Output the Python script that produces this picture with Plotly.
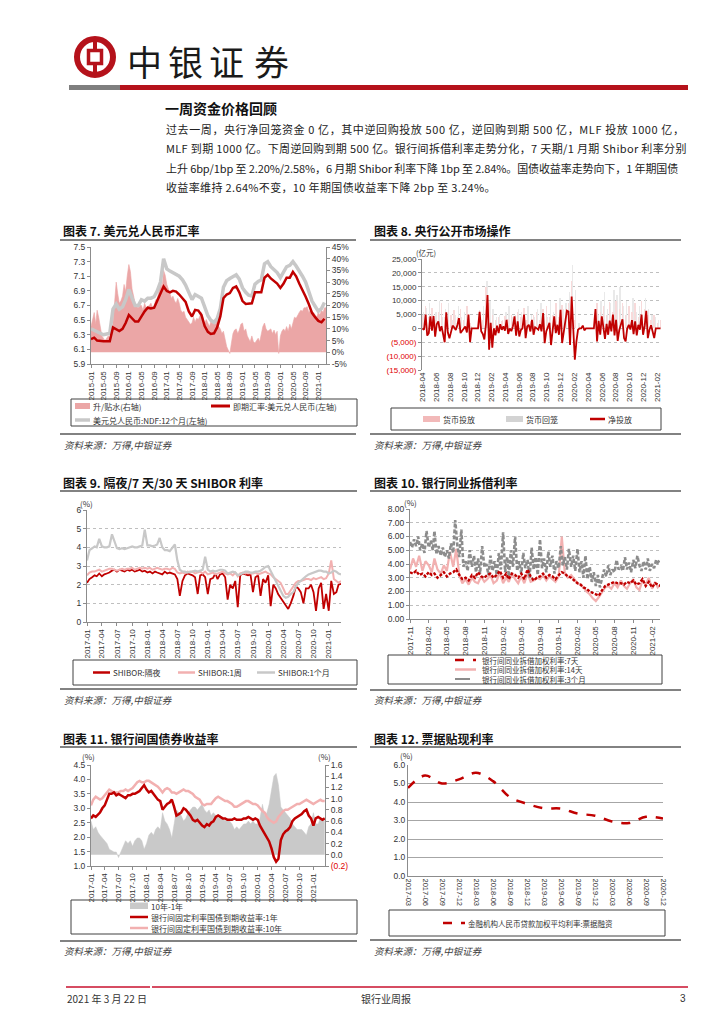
import pandas as pd
import plotly.graph_objects as go

W, H = 724, 1024
RED = "#C00000"
BRAND = "#B5121B"
PINK = "#EBA6A6"
LPINK = "#F2B0B0"
LGRAY = "#C8C8C8"
DGRAY = "#8C8C8C"
TXT = "#333333"
CJK = "Noto Sans CJK SC"
LAT = "Liberation Sans, Arial, sans-serif"

# ---------------- Chart 7: USD/CNY ----------------
fx_months = pd.date_range("2015-01-01", "2021-03-01", freq="MS")
fx_spot = [6.24, 6.26, 6.22, 6.21, 6.21, 6.21, 6.21, 6.40, 6.37, 6.35, 6.38, 6.46,
           6.57, 6.53, 6.48, 6.48, 6.55, 6.62, 6.67, 6.66, 6.67, 6.76, 6.87, 6.96,
           6.90, 6.88, 6.90, 6.89, 6.85, 6.80, 6.75, 6.62, 6.55, 6.64, 6.63, 6.57,
           6.42, 6.34, 6.31, 6.32, 6.40, 6.55, 6.80, 6.85, 6.87, 6.94, 6.96, 6.88,
           6.76, 6.72, 6.72, 6.73, 6.88, 6.88, 6.88, 7.08, 7.12, 7.07, 7.04, 7.00,
           6.94, 7.00, 7.08, 7.08, 7.16, 7.10, 7.00, 6.92, 6.82, 6.72, 6.60, 6.54,
           6.49, 6.47, 6.52]
fx_ndf = [6.38, 6.36, 6.33, 6.31, 6.30, 6.31, 6.32, 6.65, 6.72, 6.65, 6.68, 6.78,
          6.92, 6.80, 6.70, 6.70, 6.78, 6.76, 6.80, 6.80, 6.82, 6.90, 7.02, 7.34,
          7.20, 7.17, 7.15, 7.12, 7.10, 7.05, 6.98, 6.88, 6.78, 6.85, 6.82, 6.80,
          6.68, 6.56, 6.50, 6.47, 6.52, 6.66, 6.95, 7.04, 7.07, 7.10, 7.12, 7.06,
          6.94, 6.88, 6.84, 6.83, 6.99, 7.03, 7.05, 7.27, 7.30, 7.23, 7.19, 7.15,
          7.08, 7.16, 7.23, 7.25, 7.30, 7.24, 7.18, 7.10, 7.02, 6.88, 6.76, 6.69,
          6.62, 6.66, 6.74]
fx_premium = [11, 14, 17, 12, 18, 15, 10, 7, 6, 5, 6, 7, 6.5, 7, 12.5, 22.5, 30, 25, 21, 22, 24, 29, 26, 32.5,
              37.5, 34.5, 27, 24, 21, 19.5, 19, 20, 20, 18, 21, 19, 19.5, 20, 21, 19, 20, 22.5, 23, 26, 31, 27, 35, 33,
              29, 27, 25, 23, 24, 22, 21, 23, 21, 18, 17, 17.5, 15, 14, 13, 12, 12.5, 15, 13, 14.5, 14, 16, 17, 15,
              12, 14, 12.5, 11, 13, 12.5, 13, 12, 14, 11, 10, 8, 9, 6, 2.5, 1, -0.5, 4, 8, 9.5, 10, 8, 9.5, 12,
              12.5, 9, 10, 7, 6, 4.5, 7, 4.5, 4, 5, 6, 4.5, 7.5, 11, 12.5, 10, 9, 9.5, 10, 8, 9.5, 7.5, 9, -0.5,
              7, 9, 10, 9, 11, 9, 12, 10, 13, 15, 14.5, 16, 17, 18, 17.5, 19, 19, 19.5, 17, 18, 17.5, 17, 16, 15,
              17, 16, 18, 17, 19, 19]
fx_ticks = pd.date_range("2015-01-01", "2021-01-01", freq="4MS")
fx_rticks = list(range(-5, 50, 5))

# ---------------- Chart 8: PBOC open market operations (亿元, weekly) ----------------
omo_net = [0, -500, 5000, -2600, -1700, 4300, -800, 4400, -3000, 1500, 2500, -1000, 800, -2200, -5000, 5800,
           -1500, -3600, -1700, 1000, 300, -600, 1200, 3700, -1700, -800, -400, 700, -1500, 5000, -5000,
           0, 0, 0, 0, 0, 6000, -1000, -2000, -4000, 1500, 12000, -7700, 2000, -7000, 0, -2500, 1000, -1700,
           1500, -500, 700, -800, 3100, -2000, 0, -1000, 800, 4300, -2600, 2500, -2900, -600, 0, 5000, -3500,
           700, 1300, -1100, 3100, -2300, 400, 0, -500, 1500, -1100, 5500, -5300, -1100, 600, 2000, -6000,
           -500, 4300, -1700, 1300, -2300, 6700, -5300, -1100, 1800, 6400, 6100, -6000, 11500, -500, -11300,
           -4700, -500, 0, 0, 1000, -700, 0, 0, 0, 0, 0, 0, 7000, -4700, 2700, -2300, 4300, -900, -3800, 1600,
           -2300, 2800, -1100, 5000, -2500, 3100, -4500, -600, 1300, 3300, -3500, -4700, 0, 1300, -400, 3000,
           -2100, 2500, -2500, 1300, -500, 5000, -2300, 900, 6300, -3500, -500, 1100, -1100, -3500, 0, 0, 0, 0]
omo_inject = [5000, 8000, 4000, 7500, 3000, 6000, 9000, 4000, 3000, 5000, 6500,
              4000, 7000, 3000, 8000, 2000, 0, 0, 6500, 3000,
              15000,
              9000, 5000, 3000, 4000, 2500, 4500, 3500, 5000, 2000, 6000,
              4000, 7500, 3000, 2500, 5000, 6000, 3000, 7000, 8000, 4000,
              5000, 9000, 4000, 8500, 7000, 9000, 17000, 3000, 0,
              0, 500, 0, 0, 0,
              9000,
              6000, 8000, 5000, 9500, 6000, 10000, 7000, 9000, 5000, 8000,
              6000, 9000, 4000, 10000, 7000, 5000, 3000, 5000, 2000, 3000]
omo_withdraw = [6000, 7500, 9000, 5000, 6000, 10000, 4000, 7000, 9000, 3000, 5000,
                8000, 4000, 6000, 3000, 1000, 0, 0, 5000, 8000,
                17000,
                10000, 7000, 4000, 5000, 3000, 6000, 8000, 4000, 5000, 7000,
                6000, 3000, 8000, 5000, 4000, 7000, 9000, 5000, 4000, 10000,
                6000, 5000, 11000, 7000, 9000, 13000, 23000, 14000, 2000,
                0, 0, 0, 0, 0,
                5000,
                10000, 13000, 7000, 9000, 14000, 12000, 15000, 8000, 10000, 6000,
                11000, 6000, 8000, 5000, 11000, 7000, 5000, 4000, 3000, 2000]
omo_yticks = [25000, 20000, 15000, 10000, 5000, 0, -5000, -10000, -15000]
omo_ticks = pd.date_range("2018-04-01", "2021-02-01", freq="2MS")

# ---------------- Chart 9: SHIBOR (semi-monthly) ----------------
sh_months = pd.date_range("2017-01-01", "2021-03-01", freq="MS")
shibor_on = [2.10, 2.30, 2.40, 2.50, 2.45, 2.60, 2.45, 2.55, 2.60, 2.65, 2.75, 2.80, 2.70, 2.80, 2.75, 2.70, 2.80, 2.75, 2.80, 2.70, 2.75, 2.80, 2.70, 2.75,
             2.65, 2.70, 2.60, 2.70, 2.65, 2.60, 2.55, 2.70, 2.60, 2.65, 2.60, 2.55, 2.30, 1.40, 2.20, 2.50, 2.60, 2.55, 2.50, 2.40, 1.50, 2.50, 2.55, 2.40,
             1.50, 2.30, 2.35, 2.60, 2.30, 2.55, 2.60, 2.40, 1.20, 2.00, 1.80, 2.20, 0.80, 2.50, 2.60, 2.55, 2.50, 2.55, 1.60, 2.40, 2.50, 1.40, 2.30, 2.10,
             2.50, 0.85, 2.00, 1.80, 1.50, 1.30, 1.10, 0.90, 0.70, 1.00, 1.40, 1.90, 1.80, 1.60, 1.00, 1.80, 1.80, 2.00, 1.60, 0.60, 1.80, 2.10, 0.70, 1.50,
             0.60, 2.20, 1.50, 1.60, 2.00, 2.05]
shibor_1w = [2.50, 2.65, 2.70, 2.70, 2.75, 2.80, 2.70, 2.75, 2.80, 2.85, 2.85, 2.80, 2.75, 2.80, 2.85, 2.80, 2.85, 2.85, 2.90, 2.80, 2.85, 2.90, 2.85, 2.90,
             2.85, 2.90, 2.80, 2.85, 2.90, 2.85, 2.80, 2.85, 2.85, 2.80, 2.90, 2.85, 2.65, 2.60, 2.65, 2.60, 2.70, 2.65, 2.70, 2.60, 2.65, 2.70, 2.60, 2.70,
             2.55, 2.60, 2.65, 2.55, 2.60, 2.65, 2.70, 2.60, 2.55, 2.60, 2.50, 2.65, 2.45, 2.60, 2.65, 2.60, 2.65, 2.60, 2.60, 2.65, 2.55, 2.60, 2.65, 2.70,
             2.60, 2.55, 2.40, 2.30, 2.20, 2.10, 1.80, 1.50, 1.50, 1.70, 1.90, 2.10, 2.20, 2.20, 2.25, 2.30, 2.30, 2.25, 2.35, 2.30, 2.35, 2.40, 2.30, 2.35,
             2.60, 3.30, 2.30, 2.20, 2.10, 2.20]
shibor_1m = [3.30, 3.85, 3.95, 4.05, 4.00, 4.45, 4.05, 4.00, 4.00, 4.05, 4.70, 4.35, 3.95, 3.90, 3.95, 3.90, 3.95, 4.00, 4.05, 4.00, 4.00, 4.05, 4.10, 4.95,
             4.10, 4.10, 4.05, 4.10, 4.15, 4.50, 4.00, 3.85, 3.85, 3.80, 4.00, 4.15, 3.30, 2.80, 2.70, 2.70, 2.65, 2.70, 2.70, 2.75, 2.70, 2.75, 2.80, 3.50,
             2.80, 2.70, 2.75, 2.70, 2.75, 2.80, 2.80, 2.75, 2.60, 2.65, 2.70, 2.65, 2.50, 2.55, 2.65, 2.70, 2.70, 2.65, 2.65, 2.70, 2.70, 2.75, 2.85, 2.95,
             3.00, 2.75, 2.40, 2.20, 2.00, 1.70, 1.40, 1.30, 1.35, 1.50, 1.60, 1.90, 2.10, 2.20, 2.35, 2.45, 2.55, 2.60, 2.65, 2.70, 2.75, 2.75, 2.70, 2.70,
             2.60, 2.65, 2.75, 2.70, 2.60, 2.55]
q_ticks = pd.date_range("2017-01-01", "2021-01-01", freq="3MS")

# ---------------- Chart 10: interbank lending rates ----------------
ib_months = pd.date_range("2017-11-01", "2021-03-01", freq="MS")
ib_7d = [3.4, 3.3, 3.5, 3.2, 3.3, 3.1, 3.4, 3.2, 3.3, 3.0, 3.2, 3.4, 3.1, 3.3, 3.4, 3.6,
         3.2, 2.9, 3.0, 2.8, 3.2, 3.0, 3.4, 3.1, 3.0, 3.2, 3.3, 3.0, 3.2, 3.5, 3.0, 3.3,
         2.9, 3.3, 3.2, 3.0, 3.3, 2.9, 3.6, 3.1, 2.8, 3.0, 3.1, 3.3, 3.0, 3.2, 3.1, 2.9,
         3.2, 3.4, 3.3, 3.1, 3.0, 2.8, 2.6, 2.5, 2.3, 2.2, 2.0, 1.9, 1.8, 1.7, 2.1, 2.4,
         2.5, 2.6, 2.7, 2.6, 2.6, 2.5, 2.7, 2.6, 2.8, 2.5, 2.6, 2.9, 2.4, 2.7, 2.3, 2.6,
         2.5, 2.4]
ib_14d = [3.6, 4.4, 3.8, 4.6, 3.5, 4.2, 3.9, 3.4, 4.4, 3.6, 3.3, 3.9, 3.5, 4.9, 3.8, 5.1,
          3.2, 2.6, 2.9, 2.5, 3.0, 2.7, 2.6, 3.1, 2.7, 2.9, 3.2, 2.6, 2.8, 3.4, 2.6, 3.0,
          2.7, 3.3, 2.9, 2.6, 3.1, 2.6, 3.3, 2.7, 2.8, 3.0, 2.9, 3.2, 2.8, 3.1, 2.9, 2.7,
          3.1, 6.0, 3.3, 3.0, 3.2, 2.9, 2.6, 2.5, 2.3, 2.0, 1.8, 1.5, 1.3, 1.6, 2.0, 2.3,
          2.4, 2.2, 2.6, 2.3, 2.8, 2.4, 2.2, 2.6, 2.9, 2.3, 2.1, 2.8, 2.5, 3.0, 2.2, 2.7,
          2.3, 2.5]
ib_3m = [5.6, 5.2, 5.8, 5.3, 6.0, 5.0, 5.5, 4.8, 6.4, 5.2, 5.7, 5.0, 6.4, 4.7, 5.3,
         4.6, 5.2, 4.5, 5.0, 4.4, 5.5, 4.8, 7.2, 5.4, 4.5, 6.5, 3.8, 4.2, 3.5, 5.0,
         3.8, 4.6, 3.4, 4.4, 3.3, 5.3, 3.8, 4.0, 3.2, 4.6, 3.5, 4.2, 3.2, 4.8, 3.6,
         6.3, 3.4, 4.5, 3.1, 5.0, 3.8, 6.0, 3.5, 4.2, 3.3, 4.8, 3.7, 4.3, 3.0, 5.2,
         3.6, 4.5, 3.2, 5.8, 3.7, 4.4, 3.4, 4.9, 3.8, 4.6, 3.3, 4.2, 3.7, 5.3, 3.9,
         4.5, 3.6, 5.1, 3.8, 4.6, 3.5, 5.1, 3.4, 4.2, 3.0, 4.6, 2.9, 3.8, 2.7, 3.4,
         2.4, 3.2, 2.3, 2.9, 3.6, 3.1, 3.9, 3.2, 3.6, 3.4, 4.3, 3.6, 3.8, 3.5, 4.5,
         3.6, 4.1, 3.4, 4.3, 3.7, 4.6, 3.9, 3.5, 4.2, 3.6, 4.4, 3.5, 4.0, 3.7, 4.3,
         4.1, 4.3, 4.4]
ib_ticks = pd.date_range("2017-11-01", "2021-02-01", freq="3MS")

# ---------------- Chart 11: treasury yields ----------------
gb_1y = [2.65, 2.75, 2.70, 2.80, 2.85, 3.00, 3.10, 3.30, 3.50, 3.50, 3.55, 3.45, 3.50, 3.45, 3.40, 3.35, 3.45, 3.45, 3.50, 3.50, 3.55, 3.60, 3.70, 3.80,
         3.65, 3.55, 3.60, 3.50, 3.40, 3.30, 3.25, 2.95, 3.05, 3.15, 3.20, 3.30, 3.05, 2.75, 2.80, 2.85, 3.00, 2.95, 2.85, 2.75, 2.60, 2.55, 2.60, 2.50,
         2.40, 2.35, 2.45, 2.40, 2.50, 2.55, 2.70, 2.75, 2.70, 2.65, 2.65, 2.60, 2.60, 2.60, 2.65, 2.60, 2.60, 2.60, 2.65, 2.65, 2.70, 2.65, 2.60, 2.65,
         2.60, 2.40, 2.25, 2.15, 2.00, 1.85, 1.60, 1.30, 1.15, 1.25, 1.90, 2.10, 2.20, 2.25, 2.35, 2.55, 2.65, 2.70, 2.75, 2.80, 2.90, 2.95, 2.75, 2.65,
         2.40, 2.65, 2.70, 2.65, 2.60, 2.65]
gb_10y = [3.10, 3.30, 3.40, 3.35, 3.30, 3.35, 3.45, 3.55, 3.65, 3.60, 3.55, 3.55, 3.55, 3.60, 3.60, 3.65, 3.60, 3.65, 3.70, 3.80, 3.90, 3.95, 3.90, 3.90,
          3.95, 3.95, 3.90, 3.85, 3.80, 3.75, 3.65, 3.55, 3.65, 3.70, 3.65, 3.55, 3.55, 3.50, 3.55, 3.60, 3.65, 3.60, 3.60, 3.55, 3.50, 3.40, 3.35, 3.30,
          3.15, 3.10, 3.15, 3.15, 3.15, 3.25, 3.35, 3.40, 3.35, 3.30, 3.25, 3.25, 3.20, 3.15, 3.05, 3.05, 3.10, 3.15, 3.20, 3.25, 3.25, 3.20, 3.15, 3.15,
          3.10, 3.00, 2.90, 2.85, 2.70, 2.60, 2.55, 2.50, 2.55, 2.70, 2.80, 2.90, 2.95, 2.95, 3.00, 3.05, 3.10, 3.15, 3.15, 3.20, 3.25, 3.30, 3.25, 3.20,
          3.15, 3.20, 3.25, 3.30, 3.25, 3.25]
gb_spread = [0.60, 0.45, 0.50, 0.40, 0.35, 0.30, 0.25, 0.20, 0.10, 0.08, 0.05, 0.05, -0.05, 0.05, 0.15, 0.25, 0.20, 0.25, 0.15, 0.25, 0.30, 0.30, 0.25, 0.10,
             0.20, 0.35, 0.40, 0.35, 0.45, 0.50, 0.45, 0.75, 0.60, 0.55, 0.45, 0.30, 0.55, 0.80, 0.75, 0.70, 0.60, 0.65, 0.75, 0.80, 0.85, 0.85, 0.80, 0.85,
             0.90, 0.80, 0.75, 0.80, 0.70, 0.75, 0.70, 0.65, 0.70, 0.65, 0.60, 0.65, 0.60, 0.55, 0.45, 0.50, 0.45, 0.50, 0.55, 0.55, 0.60, 0.55, 0.60, 0.55,
             0.55, 0.65, 0.90, 0.70, 0.75, 0.90, 1.20, 1.40, 1.45, 1.25, 0.85, 0.80, 0.75, 0.70, 0.65, 0.55, 0.50, 0.45, 0.45, 0.45, 0.40, 0.35, 0.50, 0.55,
             0.75, 0.55, 0.55, 0.65, 0.65, 0.60]
gb_rticks = [1.6, 1.4, 1.2, 1.0, 0.8, 0.6, 0.4, 0.2, 0.0, -0.2]

# ---------------- Chart 12: bill discount rate ----------------
bill_quarters = ["2017-03", "2017-06", "2017-09", "2017-12", "2018-03", "2018-06", "2018-09", "2018-12",
                 "2019-03", "2019-06", "2019-09", "2019-12", "2020-03", "2020-06", "2020-09", "2020-12"]
bill_rate = [4.76, 5.43, 5.00, 5.22, 5.58, 5.13, 4.26, 3.90, 3.66, 3.64, 3.37, 3.26, 2.95, 2.86, 3.20, 3.10]


# ================= helpers =================
def X(p):
    return p / W


def Y(p):
    return 1 - p / H


def semi(months):
    out = []
    for m in months:
        out += [m, m + pd.Timedelta(days=15)]
    return out


def thirds(months):
    out = []
    for m in months:
        out += [m, m + pd.Timedelta(days=10), m + pd.Timedelta(days=20)]
    return out


shapes, annos = [], []


def line(x0, y0, x1, y1, color, w, dash="solid"):
    shapes.append(dict(type="line", xref="paper", yref="paper", x0=X(x0), y0=Y(y0), x1=X(x1), y1=Y(y1),
                       line=dict(color=color, width=w, dash=dash), layer="above"))


def rect(x0, y0, x1, y1, fill="rgba(0,0,0,0)", lc="rgba(0,0,0,0)", lw=0):
    shapes.append(dict(type="rect", xref="paper", yref="paper", x0=X(x0), y0=Y(y1), x1=X(x1), y1=Y(y0),
                       fillcolor=fill, line=dict(color=lc, width=lw), layer="above"))


def text(x, y, s, size, color=TXT, anchor="left", family=CJK, weight="normal", style="normal"):
    annos.append(dict(text=s, x=X(x), y=Y(y), xref="paper", yref="paper", xanchor=anchor, yanchor="middle",
                      showarrow=False, borderpad=0,
                      font=dict(family=family, size=size, color=color, weight=weight, style=style)))


tickfont_y = dict(family=LAT, size=8.5, color=TXT)
tickfont_x = dict(family=LAT, size=8, color=TXT)


def xdate(x0, x1, anchor, rng, ticks, showline=True, tk="outside"):
    return dict(domain=[X(x0), X(x1)], anchor=anchor, type="date", range=rng, tickvals=list(ticks),
                tickformat="%Y-%m", tickangle=-90, showline=showline, linecolor=DGRAY, linewidth=1,
                ticks=tk, ticklen=3, tickcolor=DGRAY, showgrid=False, zeroline=False, tickfont=tickfont_x,
                fixedrange=True)


def yax(y0, y1, anchor, rng, **kw):
    d = dict(domain=[Y(y1), Y(y0)], anchor=anchor, range=rng, showline=True, linecolor=DGRAY, linewidth=1,
             ticks="outside", ticklen=3, tickcolor=DGRAY, zeroline=False, showgrid=False, tickfont=tickfont_y,
             fixedrange=True)
    d.update(kw)
    return d


fig = go.Figure()

# ---- chart 7 traces ----
fig.add_trace(go.Scatter(x=semi(fx_months), y=fx_premium, mode="lines", line=dict(width=0.6, color=PINK),
                         fill="tozeroy", fillcolor=PINK, xaxis="x", yaxis="y", name="升/贴水(右轴)"))
fig.add_trace(go.Scatter(x=fx_months, y=fx_ndf, mode="lines", line=dict(width=3.5, color=LGRAY),
                         xaxis="x", yaxis="y2", name="美元兑人民币:NDF:12个月(左轴)"))
fig.add_trace(go.Scatter(x=fx_months, y=fx_spot, mode="lines", line=dict(width=2.5, color=RED),
                         xaxis="x", yaxis="y2", name="即期汇率:美元兑人民币(左轴)"))

# ---- chart 8 traces ----
omo_weeks = pd.date_range("2018-04-01", periods=len(omo_net), freq="7D")
inj_x = omo_weeks[0::2][:len(omo_inject)]
wd_x = inj_x + pd.Timedelta(days=4)
fig.add_trace(go.Bar(x=wd_x, y=omo_withdraw, marker=dict(color="#E9E9E9", line=dict(width=0)),
                     width=86400000 * 2.0, xaxis="x2", yaxis="y3", name="货币回笼"))
fig.add_trace(go.Bar(x=inj_x, y=omo_inject, marker=dict(color="#F8DADA", line=dict(width=0)),
                     width=86400000 * 2.0, xaxis="x2", yaxis="y3", name="货币投放"))
fig.add_trace(go.Scatter(x=omo_weeks, y=omo_net, mode="lines", line=dict(width=1.8, color=RED),
                         xaxis="x2", yaxis="y3", name="净投放"))

# ---- chart 9 traces ----
sh_x = semi(sh_months)
fig.add_trace(go.Scatter(x=sh_x, y=shibor_on, mode="lines", line=dict(width=1.8, color=RED),
                         xaxis="x3", yaxis="y4", name="SHIBOR:隔夜"))
fig.add_trace(go.Scatter(x=sh_x, y=shibor_1w, mode="lines", line=dict(width=2, color=LPINK),
                         xaxis="x3", yaxis="y4", name="SHIBOR:1周"))
fig.add_trace(go.Scatter(x=sh_x, y=shibor_1m, mode="lines", line=dict(width=2.2, color=LGRAY),
                         xaxis="x3", yaxis="y4", name="SHIBOR:1个月"))

# ---- chart 10 traces ----
fig.add_trace(go.Scatter(x=semi(ib_months), y=ib_14d, mode="lines", line=dict(width=2.2, color=LPINK),
                         xaxis="x4", yaxis="y5", name="14天"))
fig.add_trace(go.Scatter(x=thirds(ib_months), y=ib_3m, mode="lines",
                         line=dict(width=2.6, color=DGRAY, dash="4px,2px"),
                         xaxis="x4", yaxis="y5", name="3个月"))
fig.add_trace(go.Scatter(x=semi(ib_months), y=ib_7d, mode="lines",
                         line=dict(width=2.4, color=RED, dash="3px,1.5px"),
                         xaxis="x4", yaxis="y5", name="7天"))

# ---- chart 11 traces ----
fig.add_trace(go.Scatter(x=sh_x, y=gb_spread, mode="lines", line=dict(width=0.5, color="#C9C9C9"),
                         fill="tozeroy", fillcolor="#C9C9C9", xaxis="x5", yaxis="y6", name="10年-1年"))
fig.add_trace(go.Scatter(x=sh_x, y=gb_10y, mode="lines", line=dict(width=2.5, color=LPINK),
                         xaxis="x5", yaxis="y7", name="10年"))
fig.add_trace(go.Scatter(x=sh_x, y=gb_1y, mode="lines", line=dict(width=2.5, color=RED),
                         xaxis="x5", yaxis="y7", name="1年"))

# ---- chart 12 trace ----
fig.add_trace(go.Scatter(x=bill_quarters, y=bill_rate, mode="lines", line=dict(width=2.5, color=RED, dash="dash"),
                         line_shape="spline", xaxis="x6", yaxis="y8", name="票据融资"))

# ================= axes =================
omo_ticktext = []
for v in omo_yticks:
    if v < 0:
        omo_ticktext.append('<span style="color:#E00000">(%s)</span>' % format(-v, ","))
    else:
        omo_ticktext.append(format(v, ","))
gb_ticktext = ['<span style="color:#E00000">(0.2)</span>' if v < 0 else "%.1f" % v for v in gb_rticks]
fx_rticktext = ["%d%%" % v for v in fx_rticks]

layout = dict(
    width=W, height=H, autosize=False, margin=dict(l=0, r=0, t=0, b=0),
    paper_bgcolor="white", plot_bgcolor="white", showlegend=False, template="none",
    barmode="overlay", bargap=0,
    # chart 7
    xaxis=xdate(83, 318, "y", ["2015-01-01", "2021-03-16"], fx_ticks),
    yaxis=yax(239, 356, "x", [-5, 45], side="right", tickvals=fx_rticks, ticktext=fx_rticktext),
    yaxis2=yax(239, 356, "x", [5.9, 7.5], side="left", overlaying="y", tick0=5.9, dtick=0.2, tickformat=".1f"),
    # chart 8
    xaxis2=xdate(414, 653, "y3", ["2018-03-30", "2021-02-16"], omo_ticks, showline=False, tk=""),
    yaxis3=yax(251, 362, "x2", [-15000, 25000], tickvals=omo_yticks, ticktext=omo_ticktext, showgrid=True,
               gridcolor="#BFBFBF", griddash="dot", gridwidth=1, tickfont=dict(family=LAT, size=8, color=TXT)),
    # chart 9
    xaxis3=xdate(79, 333, "y4", ["2017-01-01", "2021-03-16"], q_ticks),
    yaxis4=yax(502, 614, "x3", [0, 6], dtick=1, showgrid=True, gridcolor="#BFBFBF", griddash="dot"),
    # chart 10
    xaxis4=xdate(402, 652, "y5", ["2017-11-01", "2021-03-12"], ib_ticks),
    yaxis5=yax(501, 611, "x4", [0, 8], dtick=1, tickformat=".2f", showgrid=True, gridcolor="#BFBFBF",
               griddash="dot"),
    # chart 11
    xaxis5=xdate(83, 317, "y6", ["2017-01-01", "2021-03-18"], q_ticks),
    yaxis6=yax(757, 858, "x5", [-0.2, 1.6], side="right", tickvals=gb_rticks, ticktext=gb_ticktext),
    yaxis7=yax(757, 858, "x5", [1.0, 4.5], side="left", overlaying="y6", dtick=0.5, tickformat=".1f"),
    # chart 12
    xaxis6=dict(domain=[X(400), X(655)], anchor="y8", type="category", range=[0, 15], tickangle=90,
                showline=True, linecolor=DGRAY, ticks="", showgrid=False, zeroline=False,
                tickfont=dict(family=LAT, size=7.5, color=TXT), fixedrange=True),
    yaxis8=yax(757, 868, "x6", [0, 6], dtick=1, tickformat=".1f", showgrid=True, gridcolor="#A6A6A6",
               gridwidth=1, ticks=""),
)

# ================= page decoration =================
# logo
shapes.append(dict(type="circle", xref="paper", yref="paper", x0=X(87 - 18), x1=X(87 + 18),
                   y0=Y(49 + 18), y1=Y(49 - 18), line=dict(color=BRAND, width=6)))
rect(80.5, 42.5, 93.5, 55.5, lc=BRAND, lw=3.5)
line(87, 33, 87, 42.5, BRAND, 4)
line(87, 55.5, 87, 65, BRAND, 4)
for ch, cx in zip("中银证券", [136, 177, 218, 263]):
    text(cx, 52, ch, 35, color="#1A1A1A", anchor="center")
# header bar
rect(61, 77, 112, 82, fill="#7F7F7F")
rect(112, 77, 680, 82, fill=BRAND)

text(156, 100, "一周资金价格回顾", 14, color="#111111", weight="bold")
para = [
    ("过去一周，央行净回笼资金 0 亿，其中逆回购投放 500 亿，逆回购到期 500 亿，MLF 投放 1000 亿，", 0.6),
    ("MLF 到期 1000 亿。下周逆回购到期 500 亿。银行间拆借利率走势分化，7 天期/1 月期 Shibor 利率分别", 0.35),
    ("上升 6bp/1bp 至 2.20%/2.58%，6 月期 Shibor 利率下降 1bp 至 2.84%。国债收益率走势向下，1 年期国债", -0.1),
    ("收益率维持 2.64%不变，10 年期国债收益率下降 2bp 至 3.24%。", 0.35),
]
for (s, ls), yy in zip(para, [121, 140, 160, 179]):
    text(157, yy, '<span style="letter-spacing:%.2fpx">%s</span>' % (ls, s), 11, color="#222222")

# chart titles, rules, sources
titles = [("图表 7. 美元兑人民币汇率", 54, 222), ("图表 8. 央行公开市场操作", 365, 222),
          ("图表 9. 隔夜/7 天/30 天 SHIBOR 利率", 54, 474), ("图表 10. 银行同业拆借利率", 365, 474),
          ("图表 11. 银行间国债券收益率", 54, 730), ("图表 12. 票据贴现利率", 365, 730)]
for s, xx, yy in titles:
    text(xx, yy, s, 12, color="#111111", weight="bold")
for x0, x1, yt, yb in [(52, 348, 232, 426), (362, 673, 232, 426), (52, 349, 483, 681),
                       (362, 673, 483, 682), (52, 349, 739, 933), (362, 673, 739, 932)]:
    line(x0, yt, x1, yt, "#595959", 1.5)
    line(x0, yb, x1, yb, "#595959", 1.5)
for xx, yy in [(55, 437), (365, 437), (55, 692), (365, 692), (55, 943), (365, 943)]:
    text(xx, yy, "资料来源：万得,中银证券", 9.5, color="#404040", style="italic")

# unit labels
text(418, 244, "(亿元)", 7.5, anchor="center")
text(78, 495, "(%)", 8, anchor="center")
text(402, 494, "(%)", 8, anchor="center")
text(80, 748, "(%)", 8, anchor="center")
text(316, 748, "(%)", 8, anchor="center")
text(398, 747, "(%)", 8, anchor="center")

# legends
LB = "#404040"
LF = 8
# chart 7
rect(63, 391, 349, 418, lc=LB, lw=1)
rect(67, 395, 82, 401, fill=PINK)
text(84, 398, "升/贴水(右轴)", LF)
line(203, 398, 222, 398, RED, 3)
text(224, 398, "即期汇率:美元兑人民币(左轴)", LF)
line(67, 412, 82, 412, LGRAY, 3.5)
text(84, 412, "美元兑人民币:NDF:12个月(左轴)", LF)
# chart 8
rect(383, 400, 653, 422, lc=LB, lw=1)
rect(415, 408, 432, 414, fill="#F2B9B9")
text(434, 411, "货币投放", LF)
rect(498, 408, 515, 414, fill="#D3D3D3")
text(517, 411, "货币回笼", LF)
line(582, 411, 597, 411, RED, 2.5)
text(599, 411, "净投放", LF)
# chart 9
rect(65, 652, 349, 677, lc=LB, lw=1)
line(85, 664.5, 102, 664.5, RED, 2.5)
text(104, 664.5, "SHIBOR:隔夜", LF)
line(170, 664.5, 187, 664.5, LPINK, 2.5)
text(189, 664.5, "SHIBOR:1周", LF)
line(249, 664.5, 267, 664.5, LGRAY, 2.5)
text(269, 664.5, "SHIBOR:1个月", LF)
# chart 10
rect(380, 647, 654, 676, lc=LB, lw=1)
line(447, 652, 468, 652, RED, 2.5, "dash")
text(473, 652, "银行间同业拆借加权利率:7天", 7.5)
line(447, 661.5, 468, 661.5, LPINK, 2.5)
text(473, 661.5, "银行间同业拆借加权利率:14天", 7.5)
line(447, 671, 468, 671, DGRAY, 2, "longdash")
text(473, 671, "银行间同业拆借加权利率:3个月", 7.5)
# chart 11
rect(63, 892, 349, 926, lc=LB, lw=1)
rect(122, 894.5, 140, 901, fill="#C9C9C9")
text(142, 898, "10年-1年", LF)
line(122, 909, 140, 909, RED, 2.5)
text(142, 909, "银行间固定利率国债到期收益率:1年", LF)
line(122, 920, 140, 920, LPINK, 2.5)
text(142, 920, "银行间固定利率国债到期收益率:10年", LF)
# chart 12
rect(381, 902, 657, 928, lc=LB, lw=1)
line(435, 915, 457, 915, RED, 2.5, "dash")
text(459, 915, "金融机构人民币贷款加权平均利率:票据融资", 7.5)

# footer
line(58, 979, 142, 979, "#C8102E", 1.5)
line(144, 979, 680, 979, "#C8102E", 1.5)
text(58, 990, "2021 年 3 月 22 日", 10, color="#333333")
text(378, 990, "银行业周报", 10, color="#333333", anchor="center")
text(679, 990, "3", 10, color="#333333", anchor="right", family=LAT)

layout["shapes"] = shapes
layout["annotations"] = annos
fig.update_layout(**layout)
fig.write_html("out.html")
